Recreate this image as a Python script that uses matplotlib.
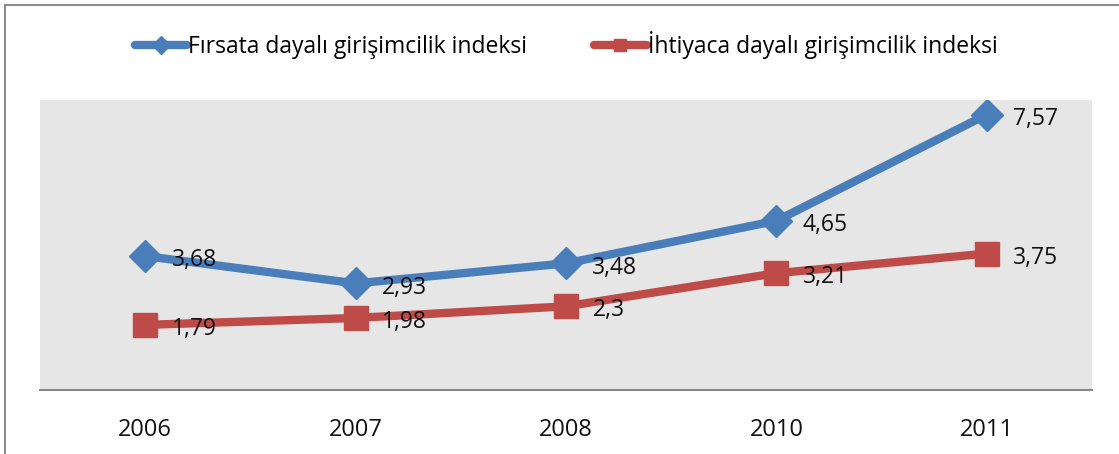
import matplotlib
matplotlib.use("Agg")
import matplotlib.pyplot as plt
from matplotlib.patches import Rectangle

years = ["2006", "2007", "2008", "2010", "2011"]
firsat = [3.68, 2.93, 3.48, 4.65, 7.57]
ihtiyac = [1.79, 1.98, 2.3, 3.21, 3.75]
firsat_labels = ["3,68", "2,93", "3,48", "4,65", "7,57"]
ihtiyac_labels = ["1,79", "1,98", "2,3", "3,21", "3,75"]
series_names = ["Fırsata dayalı girişimcilik indeksi", "İhtiyaca dayalı girişimcilik indeksi"]

plt.rcParams['font.family'] = ['Open Sans', 'DejaVu Sans']

W, H = 1119, 454
fig = plt.figure(figsize=(W / 100, H / 100), dpi=100)
fig.patch.set_facecolor("white")

# outer chart border
fig.patches.append(Rectangle((5 / W, -0.1), 1.2, (H - 5) / H + 0.1, transform=fig.transFigure,
                             fill=False, edgecolor="#8c8c8c", linewidth=1.5))

ax = fig.add_axes([40 / W, 64 / H, (1092 - 40) / W, (390 - 100) / H])
ax.set_facecolor("#e6e6e6")

blue = "#4a7ebb"
red = "#be4b48"
x = list(range(len(years)))
ax.plot(x, firsat, color=blue, linewidth=6, marker="D", markersize=16, label=series_names[0],
        solid_capstyle="round")
ax.plot(x, ihtiyac, color=red, linewidth=6, marker="s", markersize=17, label=series_names[1],
        solid_capstyle="round")

for xi, v, t in zip(x, firsat, firsat_labels):
    ax.annotate(t, (xi, v), xytext=(19, -3), textcoords="offset points", ha="left", va="center",
                fontsize=16.5, color="#111111")
for xi, v, t in zip(x, ihtiyac, ihtiyac_labels):
    ax.annotate(t, (xi, v), xytext=(19, -3), textcoords="offset points", ha="left", va="center",
                fontsize=16.5, color="#111111")

ax.set_xlim(-0.5, 4.5)
ax.set_ylim(0, 7.97)
ax.set_xticks(x)
ax.set_xticklabels(years, fontsize=17, color="#111111")
ax.set_yticks([])
ax.tick_params(axis="x", length=0, pad=20)
for s in ["top", "right", "left"]:
    ax.spines[s].set_visible(False)
ax.spines["bottom"].set_color("#868686")
ax.spines["bottom"].set_linewidth(1.5)

leg = fig.legend(loc="center", bbox_to_anchor=((566) / W, (H - 45) / H), ncol=2, frameon=False,
                 fontsize=16.5, handlelength=2.3, handletextpad=0.05, columnspacing=2.9,
                 markerscale=0.55)

fig.savefig("out.png", dpi=100)
